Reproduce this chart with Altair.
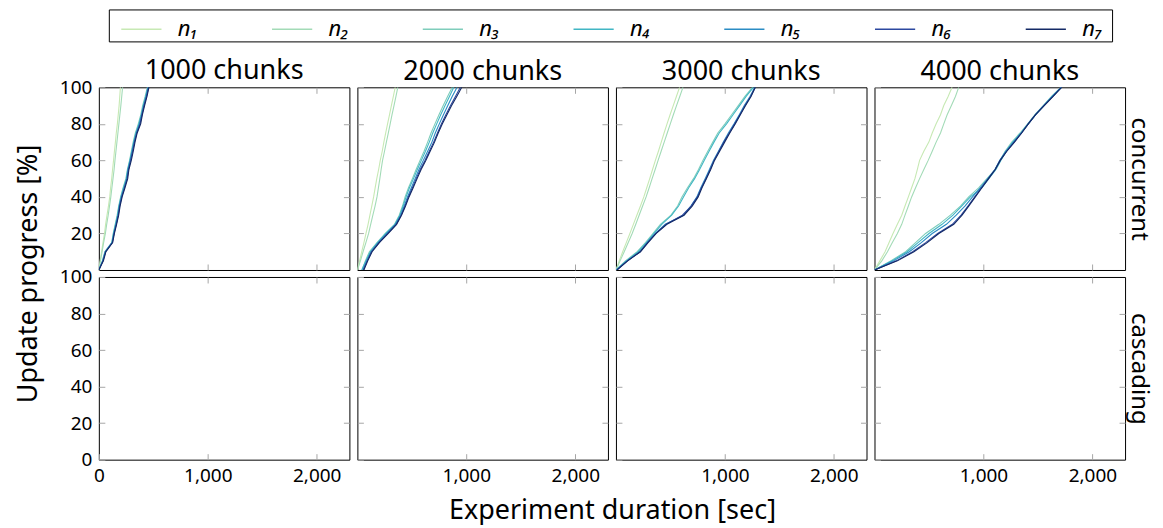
import altair as alt
import pandas as pd

SERIES = ["n₁", "n₂", "n₃", "n₄", "n₅", "n₆", "n₇"]
COLORS = ["#c7e9b4", "#a3dbb7", "#7fcdbb", "#41b6c4", "#2b8cc4", "#2c48a0", "#142a66"]
CHUNKS = ["1000 chunks", "2000 chunks", "3000 chunks", "4000 chunks"]
MODES = ["concurrent", "cascading"]

# progress levels [%]
PROGRESS = [0, 5, 10, 15, 20, 25, 30, 35, 40, 45, 50, 55, 60, 65, 70, 75, 80, 85, 90, 95, 100]

# experiment duration [sec] at which each progress level is reached (concurrent)
C1000 = [
    [0, 12, 25, 38, 52, 62, 75, 88, 100, 108, 118, 126, 135, 143, 152, 160, 170, 178, 186, 192, 198],
    [0, 15, 30, 44, 60, 72, 86, 98, 110, 120, 130, 140, 148, 157, 166, 175, 184, 193, 202, 210, 218],
    [0, 32, 55, 118, 132, 150, 168, 182, 200, 222, 248, 262, 282, 298, 315, 335, 362, 385, 402, 425, 445],
    [0, 34, 57, 120, 135, 153, 172, 185, 203, 226, 252, 265, 285, 302, 320, 340, 368, 390, 408, 430, 450],
    [0, 36, 60, 122, 138, 157, 176, 188, 207, 232, 256, 268, 288, 306, 323, 345, 372, 393, 412, 434, 452],
    [0, 38, 62, 124, 140, 160, 178, 191, 210, 235, 260, 272, 292, 310, 327, 348, 378, 396, 415, 438, 456],
    [0, 42, 65, 127, 143, 163, 182, 195, 214, 240, 265, 276, 298, 316, 332, 352, 384, 400, 420, 442, 460],
]
C2000 = [
    [0, 20, 40, 60, 79, 98, 115, 132, 149, 163, 178, 195, 210, 228, 243, 260, 277, 295, 312, 330, 347],
    [0, 28, 52, 78, 103, 122, 142, 162, 180, 193, 206, 218, 231, 249, 266, 284, 301, 318, 336, 354, 371],
    [43, 73, 110, 180, 256, 341, 384, 414, 438, 469, 505, 539, 575, 612, 645, 676, 712, 749, 788, 828, 871],
    [40, 78, 118, 185, 262, 345, 390, 420, 447, 478, 515, 550, 587, 625, 660, 692, 728, 765, 805, 845, 885],
    [50, 85, 125, 192, 270, 350, 396, 430, 460, 495, 530, 565, 605, 645, 684, 715, 752, 790, 830, 870, 915],
    [55, 90, 130, 198, 278, 356, 402, 437, 468, 505, 540, 577, 620, 660, 700, 735, 772, 812, 855, 900, 945],
    [60, 95, 135, 202, 284, 360, 405, 442, 474, 512, 548, 585, 628, 668, 708, 742, 780, 822, 865, 912, 958],
]
C3000 = [
    [0, 30, 62, 95, 128, 160, 192, 225, 256, 283, 310, 336, 362, 390, 416, 442, 469, 497, 526, 555, 584],
    [0, 38, 76, 113, 149, 182, 213, 245, 277, 305, 332, 360, 387, 415, 443, 471, 499, 527, 556, 586, 615],
    [0, 88, 195, 271, 341, 408, 505, 566, 606, 657, 712, 758, 798, 843, 889, 935, 1001, 1062, 1123, 1184, 1254],
    [0, 95, 205, 280, 350, 420, 512, 575, 620, 668, 722, 768, 810, 855, 900, 948, 1015, 1075, 1135, 1195, 1262],
    [6, 103, 219, 286, 362, 453, 621, 688, 743, 779, 819, 858, 895, 941, 986, 1032, 1084, 1132, 1178, 1230, 1275],
    [8, 105, 222, 290, 366, 460, 610, 690, 748, 785, 826, 865, 900, 945, 990, 1040, 1090, 1138, 1185, 1236, 1278],
    [10, 108, 225, 295, 370, 468, 625, 700, 755, 790, 830, 870, 905, 952, 998, 1045, 1096, 1142, 1190, 1240, 1280],
]
C4000 = [
    [0, 49, 97, 134, 170, 210, 250, 280, 311, 341, 371, 393, 414, 453, 499, 530, 566, 606, 636, 676, 712],
    [0, 67, 119, 164, 210, 250, 280, 311, 341, 377, 414, 453, 493, 530, 566, 606, 636, 667, 706, 743, 773],
    [0, 149, 286, 377, 469, 591, 697, 789, 865, 956, 1032, 1108, 1154, 1199, 1260, 1336, 1406, 1473, 1549, 1625, 1711],
    [0, 160, 300, 400, 500, 620, 720, 800, 880, 985, 1050, 1115, 1160, 1210, 1270, 1345, 1412, 1480, 1555, 1630, 1714],
    [0, 175, 320, 430, 530, 660, 750, 830, 900, 970, 1040, 1105, 1150, 1205, 1275, 1345, 1410, 1478, 1552, 1632, 1715],
    [0, 200, 350, 470, 580, 715, 795, 858, 920, 982, 1045, 1108, 1154, 1212, 1282, 1350, 1412, 1479, 1556, 1638, 1716],
    [0, 210, 362, 484, 591, 728, 804, 865, 926, 986, 1047, 1108, 1154, 1215, 1285, 1351, 1412, 1479, 1558, 1640, 1717],
]
# cascading: no curves drawn in the reference
CASCADING = [[], [], [], []]

CONCURRENT = [C1000, C2000, C3000, C4000]

FONT = "Noto Sans"
TICK = "#a6a6a6"
W, H = 251, 183
XMAX = 2300


def make_df(series_lists):
    rows = []
    for s, xs in zip(SERIES, series_lists):
        for i, (x, y) in enumerate(zip(xs, PROGRESS)):
            rows.append({"series": s, "t": x, "p": y, "i": i})
    return pd.DataFrame(rows, columns=["series", "t", "p", "i"])


def panel(r, c):
    data = CONCURRENT[c] if r == 0 else CASCADING[c]
    df = make_df(data)
    left, right, top, bottom = c == 0, c == 3, r == 0, r == 1

    xs = alt.Scale(domain=[0, XMAX], nice=False, zero=True)
    ys = alt.Scale(domain=[0, 100], nice=False)

    xa = dict(orient="bottom", offset=-6, tickSize=6, tickColor=TICK, tickWidth=1,
              values=[0, 1000, 2000] if left else [1000, 2000], labels=bottom,
              format=",d", domain=False, grid=False, labelPadding=7, labelFlush=False)
    if bottom and c == 1:
        xa.update(title="Experiment duration [sec]", titleX=W + 4, titleAlign="center",
                  titlePadding=12)
    else:
        xa.update(title=None)
    ya = dict(orient="left", offset=-6, tickSize=6, tickColor=TICK, tickWidth=1,
              values=[20, 40, 60, 80, 100] if top else [0, 20, 40, 60, 80, 100],
              labels=left, domain=False, grid=False, labelPadding=7)
    if left and bottom:
        ya.update(title="Update progress [%]", titleY=-3.5, titleAlign="center",
                  titlePadding=17)
    else:
        ya.update(title=None)

    legend = None
    if r == 0 and c == 0:
        legend = alt.Legend(orient="none", legendX=10, legendY=-78,
                            direction="horizontal", columns=7,
                            title="\u00a0", titleOrient="right", titlePadding=8,
                            titleFontSize=22,
                            symbolType="M-0.4,0H1.9", symbolSize=1225, symbolStrokeWidth=1.5,
                            labelFont=FONT, labelFontSize=22, labelFontStyle="italic",
                            labelColor="black",
                            strokeColor="black", padding=1, columnPadding=62,
                            labelOffset=31)

    lines = alt.Chart(df).mark_line(strokeWidth=1.1, clip=True).encode(
        x=alt.X("t:Q", scale=xs, axis=alt.Axis(**xa)),
        y=alt.Y("p:Q", scale=ys, axis=alt.Axis(**ya)),
        color=alt.Color("series:N", scale=alt.Scale(domain=SERIES, range=COLORS),
                        legend=legend),
        order="i:Q",
    )

    xb = dict(orient="top", offset=-6, tickSize=6, tickColor=TICK, tickWidth=1,
              values=[1000, 2000], labels=False, domain=False, grid=False, title=None)
    yb = dict(orient="right", offset=-6, tickSize=6, tickColor=TICK, tickWidth=1,
              values=[20, 40, 60, 80], labels=False, domain=False, grid=False)
    if right:
        yb.update(title=MODES[r], titleAngle=90, titlePadding=1, titleAlign="center",
                  titleFontSize=24)
    else:
        yb.update(title=None)
    ticks = alt.Chart(df).mark_line(strokeOpacity=0).encode(
        x=alt.X("t:Q", scale=xs, axis=alt.Axis(**xb)),
        y=alt.Y("p:Q", scale=ys, axis=alt.Axis(**yb)),
        detail="series:N",
    )

    layered = alt.layer(lines, ticks).resolve_axis(x="independent", y="independent")
    props = dict(width=W, height=H)
    if top:
        props["title"] = alt.TitleParams(CHUNKS[c], fontSize=27, font=FONT,
                                         fontWeight="normal", color="black",
                                         offset=-7 if left else 1)
    return layered.properties(**props)


panels = [panel(r, c) for r in range(2) for c in range(4)]

chart = alt.concat(*panels, columns=4, spacing={"row": 7, "column": 8},
                   bounds="flush").properties(
    padding={"left": 5, "top": 0, "right": 4, "bottom": 0}
).configure_view(
    stroke="black", strokeWidth=1
).configure_axis(
    labelFont=FONT, labelFontSize=19, labelColor="black",
    titleFont=FONT, titleFontSize=27, titleColor="black", titleFontWeight="normal",
)

chart.save("out.html", embed_options={"renderer": "svg", "actions": False})
